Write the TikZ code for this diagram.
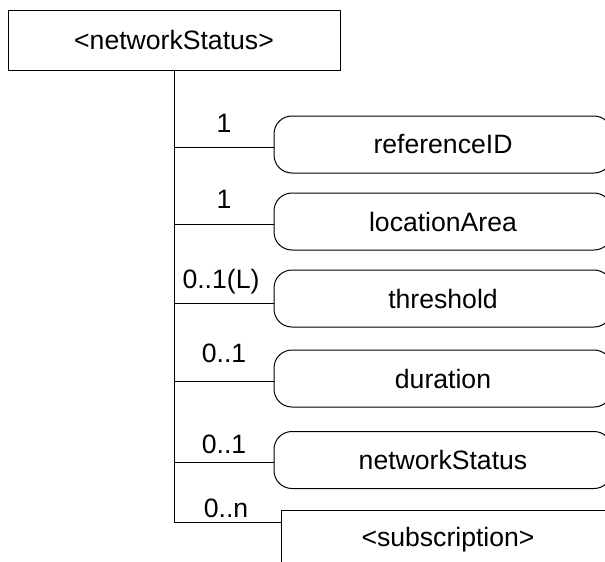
\documentclass[tikz,border=0pt]{standalone}
\usepackage{fontspec}
\setmainfont{Liberation Sans}
\usepackage{tikz}
\usetikzlibrary{calc}

\tikzset{
  elem/.style={draw,rounded corners=18pt,minimum width=338pt,minimum height=57pt,inner sep=0pt},
  group/.style={draw,rectangle,minimum width=332pt,minimum height=60pt,inner sep=0pt},
  card/.style={anchor=base,inner sep=0pt}
}

\begin{document}
\begin{tikzpicture}[x=1pt,y=-1pt,line width=1pt,font=\fontsize{26.6}{30}\selectfont]
\clip (0,0) rectangle (605,562);
\node[group] (top) at (174,40) {<networkStatus>};
\node[elem] (refid) at (443,144.5) {referenceID};
\node[elem] (locarea) at (443,221.5) {locationArea};
\node[elem] (thresh) at (443,298.5) {threshold};
\node[elem] (dur) at (443,378.5) {duration};
\node[elem] (netstat) at (443,460) {networkStatus};
\node[group,minimum width=334pt] (subscr) at (448,540) {<subscription>};
\draw (top.south) |- ([yshift=-13pt]subscr.north west);
\draw (top.south |- refid.west) ++(0,2.5) -- ([yshift=-2.5pt]refid.west);
\draw (top.south |- locarea.west) ++(0,2.5) -- ([yshift=-2.5pt]locarea.west);
\draw (top.south |- thresh.west) ++(0,4.5) -- ([yshift=-4.5pt]thresh.west);
\draw (top.south |- dur.west) ++(0,2.5) -- ([yshift=-2.5pt]dur.west);
\draw (top.south |- netstat.west) ++(0,2) -- ([yshift=-2pt]netstat.west);
\node[card] (m1) at (224,132) {1};
\node[card] (m2) at (224,208) {1};
\node[card] (m3) at (221,288) {0..1(L)};
\node[card] (m4) at (224,362) {0..1};
\node[card] (m5) at (224,453) {0..1};
\node[card] (m6) at (226,517) {0..n};
\end{tikzpicture}
\end{document}
